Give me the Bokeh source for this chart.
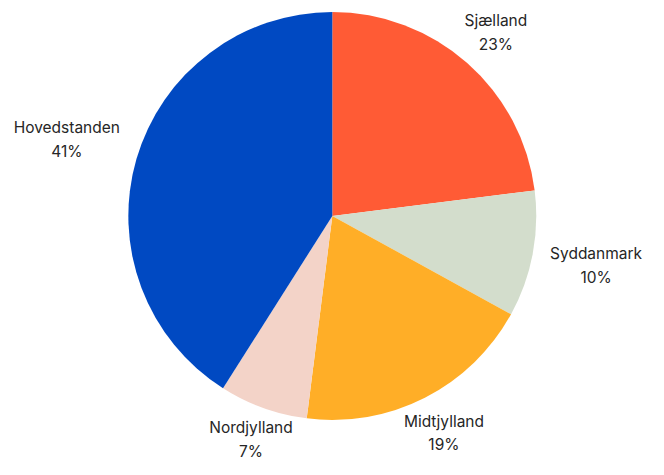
import math
from bokeh.plotting import figure
from bokeh.models import Range1d, ColumnDataSource
from bokeh.core.properties import value
from bokeh.embed import file_html
from bokeh.resources import INLINE

regions = ["Sjælland", "Syddanmark", "Midtjylland", "Nordjylland", "Hovedstanden"]
shares = [23, 10, 19, 7, 41]
colors = ["#FF5B35", "#D3DDCC", "#FFAE27", "#F3D3C8", "#0049C2"]

W, H = 648, 459
XW, YH = 664, 475
cx, cy, r = 340, 252, 209
pad = 19

total = float(sum(shares))
starts, ends, lx, ly, labels = [], [], [], [], []
cum = 0.0
for name, v in zip(regions, shares):
    a0 = math.pi / 2 - 2 * math.pi * cum / total
    cum += v
    a1 = math.pi / 2 - 2 * math.pi * cum / total
    starts.append(a0)
    ends.append(a1)
    mid = (a0 + a1) / 2
    halfw = len(name) * 4.8
    rl = r + pad + halfw * abs(math.cos(mid))
    lx.append(cx + rl * math.cos(mid))
    ly.append(cy + rl * math.sin(mid))
    labels.append(f"{name}\n{round(100 * v / total)}%")

src = ColumnDataSource(dict(start=starts, end=ends, color=colors, x=lx, y=ly, label=labels))

p = figure(width=W, height=H, output_backend="svg", toolbar_location=None,
           x_range=Range1d(0, XW), y_range=Range1d(0, YH), min_border=0)
p.axis.visible = False
p.grid.visible = False
p.outline_line_color = None

p.wedge(x=cx, y=cy, radius=r, start_angle="start", end_angle="end", direction="clock",
        fill_color="color", line_color=None, source=src)

p.text(x="x", y="y", text="label", source=src, text_align="center", text_baseline="middle",
       text_font=value("Inter"), text_font_size="15.5px", text_color="#262626",
       text_line_height=1.25)

open("out.html", "w").write(file_html(p, INLINE))
